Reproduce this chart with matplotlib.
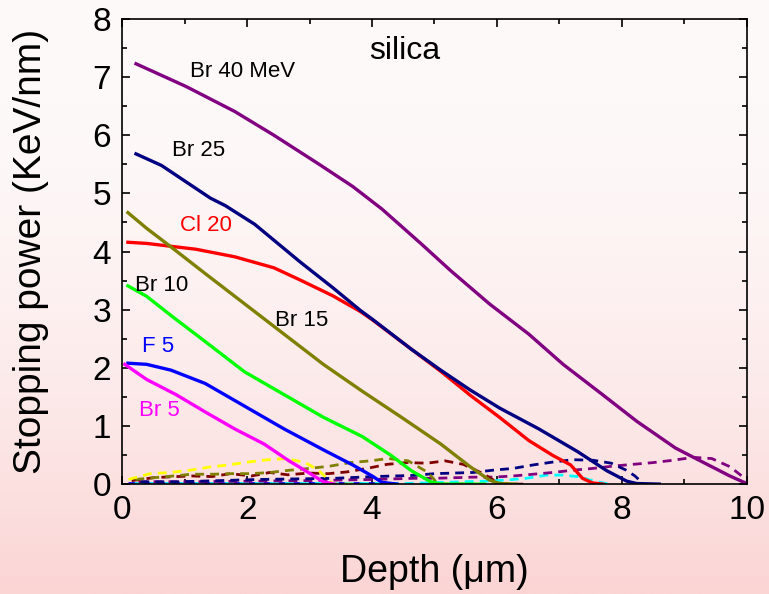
import numpy as np
import matplotlib
matplotlib.use("Agg")
import matplotlib.pyplot as plt
from matplotlib.ticker import MultipleLocator

plt.rcParams['font.family'] = ['Liberation Sans', 'DejaVu Sans']

# electronic stopping (solid lines)
br40_x = [0.22, 1.02, 1.8, 2.43, 3.14, 3.69, 4.16, 4.78, 5.25, 5.88, 6.51, 7.06, 7.69, 8.24, 8.86, 9.33, 9.73, 10.0]
br40_y = [7.23, 6.84, 6.41, 6.0, 5.51, 5.12, 4.73, 4.14, 3.68, 3.1, 2.58, 2.06, 1.54, 1.08, 0.62, 0.36, 0.14, 0.01]

br25_x = [0.22, 0.63, 1.41, 1.65, 2.12, 2.85, 3.37, 3.81, 4.0, 4.63, 5.1, 5.57, 6.04, 6.67, 7.29, 7.76, 8.08, 8.24, 8.6]
br25_y = [5.68, 5.48, 4.92, 4.79, 4.47, 3.82, 3.38, 2.99, 2.84, 2.32, 1.96, 1.62, 1.31, 0.95, 0.56, 0.23, 0.05, 0.01, 0.0]

cl20_x = [0.09, 0.39, 1.18, 1.8, 2.43, 2.85, 3.37, 3.81, 4.0, 4.63, 5.1, 5.4, 5.57, 6.04, 6.51, 6.9, 7.18, 7.37, 7.53, 7.7]
cl20_y = [4.16, 4.14, 4.04, 3.91, 3.72, 3.51, 3.24, 2.97, 2.83, 2.32, 1.94, 1.68, 1.53, 1.15, 0.75, 0.49, 0.33, 0.1, 0.02, 0.0]

br15_x = [0.09, 0.39, 0.78, 1.33, 1.96, 2.59, 3.22, 3.84, 4.47, 5.1, 5.57, 5.88, 6.04, 6.3]
br15_y = [4.67, 4.4, 4.08, 3.62, 3.1, 2.58, 2.06, 1.6, 1.15, 0.69, 0.3, 0.07, 0.01, 0.0]

br10_x = [0.09, 0.39, 0.78, 1.33, 1.96, 2.59, 3.22, 3.84, 4.31, 4.63, 4.94, 5.1, 5.8]
br10_y = [3.41, 3.23, 2.9, 2.45, 1.93, 1.54, 1.15, 0.82, 0.49, 0.23, 0.04, 0.0, 0.0]

f5_x = [0.09, 0.39, 0.78, 1.33, 1.96, 2.59, 3.22, 3.69, 4.0, 4.16, 4.4]
f5_y = [2.08, 2.06, 1.96, 1.73, 1.34, 0.95, 0.59, 0.33, 0.14, 0.03, 0.0]

br5_x = [0.04, 0.39, 0.86, 1.33, 1.8, 2.27, 2.67, 2.98, 3.22, 3.4]
br5_y = [2.06, 1.8, 1.54, 1.24, 0.95, 0.69, 0.4, 0.2, 0.04, 0.0]

# nuclear stopping (dashed lines)
nbr5_x = [0.1, 0.45, 0.77, 1.09, 1.38, 1.7, 2.02, 2.34, 2.63, 2.93, 3.14, 3.3, 3.38, 3.8]
nbr5_y = [0.08, 0.18, 0.2, 0.24, 0.29, 0.33, 0.38, 0.42, 0.44, 0.37, 0.24, 0.08, 0.0, 0.0]

nbr10_x = [0.21, 0.51, 0.82, 1.11, 1.44, 1.76, 2.07, 2.36, 2.69, 3.0, 3.33, 3.65, 3.97, 4.26, 4.58, 4.88, 4.98, 5.05, 5.5]
nbr10_y = [0.08, 0.11, 0.14, 0.17, 0.17, 0.18, 0.18, 0.2, 0.24, 0.27, 0.31, 0.37, 0.4, 0.44, 0.4, 0.21, 0.1, 0.0, 0.0]

nbr15_x = [0.15, 0.5, 0.77, 1.11, 1.44, 1.73, 2.07, 2.36, 2.65, 2.98, 3.3, 3.6, 3.92, 4.24, 4.55, 4.88, 5.17, 5.46, 5.78, 5.99, 6.1, 6.5]
nbr15_y = [0.06, 0.11, 0.125, 0.14, 0.13, 0.18, 0.14, 0.2, 0.16, 0.19, 0.18, 0.21, 0.27, 0.34, 0.37, 0.36, 0.4, 0.34, 0.18, 0.04, 0.0, 0.0]

ncl20_x = [0.2, 1.5, 3.0, 4.5, 5.14, 5.8, 6.16, 6.47, 6.8, 7.06, 7.33, 7.49, 7.65, 7.8]
ncl20_y = [0.01, 0.01, 0.01, 0.01, 0.03, 0.05, 0.07, 0.1, 0.155, 0.155, 0.125, 0.07, 0.03, 0.0]

nbr25_x = [0.29, 0.9, 1.56, 2.2, 2.8, 3.41, 4.04, 4.68, 5.0, 5.62, 5.94, 6.26, 6.58, 6.9, 7.22, 7.54, 7.83, 8.07, 8.21, 8.3]
nbr25_y = [0.04, 0.04, 0.06, 0.08, 0.09, 0.1, 0.13, 0.15, 0.18, 0.2, 0.24, 0.27, 0.33, 0.38, 0.42, 0.41, 0.36, 0.24, 0.14, 0.05]

nbr40_x = [0.26, 1.0, 2.0, 3.0, 4.0, 4.68, 5.0, 5.64, 5.94, 6.26, 6.58, 6.9, 7.22, 7.54, 7.86, 8.18, 8.5, 8.82, 9.14, 9.44, 9.73, 9.94, 10.0]
nbr40_y = [0.04, 0.04, 0.05, 0.06, 0.08, 0.1, 0.1, 0.12, 0.12, 0.14, 0.17, 0.2, 0.24, 0.27, 0.31, 0.34, 0.37, 0.41, 0.46, 0.44, 0.3, 0.125, 0.08]

nf5_x = [0.1, 1.0, 2.0, 3.0, 4.0, 4.3]
nf5_y = [0.01, 0.01, 0.01, 0.01, 0.01, 0.0]

solid = [
    (br40_x, br40_y, '#800080'),
    (cl20_x, cl20_y, '#ff0000'),
    (br25_x, br25_y, '#000080'),
    (br15_x, br15_y, '#808000'),
    (br10_x, br10_y, '#00ff00'),
    (f5_x, f5_y, '#0000ff'),
    (br5_x, br5_y, '#ff00ff'),
]
dashed = [
    (nf5_x, nf5_y, '#0000ff'),
    (ncl20_x, ncl20_y, '#00ffff'),
    (nbr40_x, nbr40_y, '#800080'),
    (nbr25_x, nbr25_y, '#000080'),
    (nbr15_x, nbr15_y, '#800000'),
    (nbr10_x, nbr10_y, '#808000'),
    (nbr5_x, nbr5_y, '#ffff00'),
]

labels = ['Br 40 MeV', 'Br 25', 'Cl 20', 'Br 10', 'Br 15', 'F 5', 'Br 5']
label_x = [1.93, 1.22, 1.34, 0.63, 2.88, 0.57, 0.60]
label_y = [7.10, 5.73, 4.45, 3.42, 2.81, 2.37, 1.27]
label_colors = ['black', 'black', '#ff0000', 'black', 'black', '#0000ff', '#ff00ff']

fig = plt.figure(figsize=(7.69, 5.94), dpi=100)

# white-to-pink backdrop
bg = fig.add_axes([0, 0, 1, 1], zorder=-1)
t = np.linspace(0, 1, 300)[:, None] ** 2
top = np.array([254, 250, 250]) / 255.0
bottom = np.array([251, 212, 212]) / 255.0
grad = top + (bottom - top) * t[:, :, None]
bg.imshow(np.repeat(grad, 2, axis=1), aspect='auto', extent=[0, 1, 0, 1])
bg.axis('off')

ax = fig.add_axes([0.159, 0.185, 0.812, 0.783])
ax.set_facecolor('none')

for xs, ys, c in dashed:
    ax.plot(xs, ys, color=c, lw=2.0, dashes=(3.2, 2.2))
for xs, ys, c in solid:
    ax.plot(xs, ys, color=c, lw=2.4)

for txt, lx, ly, c in zip(labels, label_x, label_y, label_colors):
    ax.text(lx, ly, txt, color=c, fontsize=16, ha='center', va='center')
ax.text(4.53, 7.45, 'silica', fontsize=23, ha='center', va='center')

ax.set_xlim(0, 10)
ax.set_ylim(0, 8)
ax.xaxis.set_major_locator(MultipleLocator(2))
ax.xaxis.set_minor_locator(MultipleLocator(1))
ax.yaxis.set_major_locator(MultipleLocator(1))
ax.yaxis.set_minor_locator(MultipleLocator(0.5))
ax.tick_params(which='both', direction='in', top=True, right=True, width=1.2)
ax.tick_params(which='major', length=6, labelsize=24, pad=8)
ax.tick_params(which='minor', length=3.5)
for s in ax.spines.values():
    s.set_linewidth(1.2)

ax.set_xlabel('Depth (\u03bcm)', fontsize=27)
ax.set_ylabel('Stopping power (KeV/nm)', fontsize=28)
ax.xaxis.set_label_coords(0.5, -0.15)
ax.xaxis.label.set_va('top')
ax.yaxis.set_label_coords(-0.117, 0.5)

fig.savefig('out.png', dpi=100)
